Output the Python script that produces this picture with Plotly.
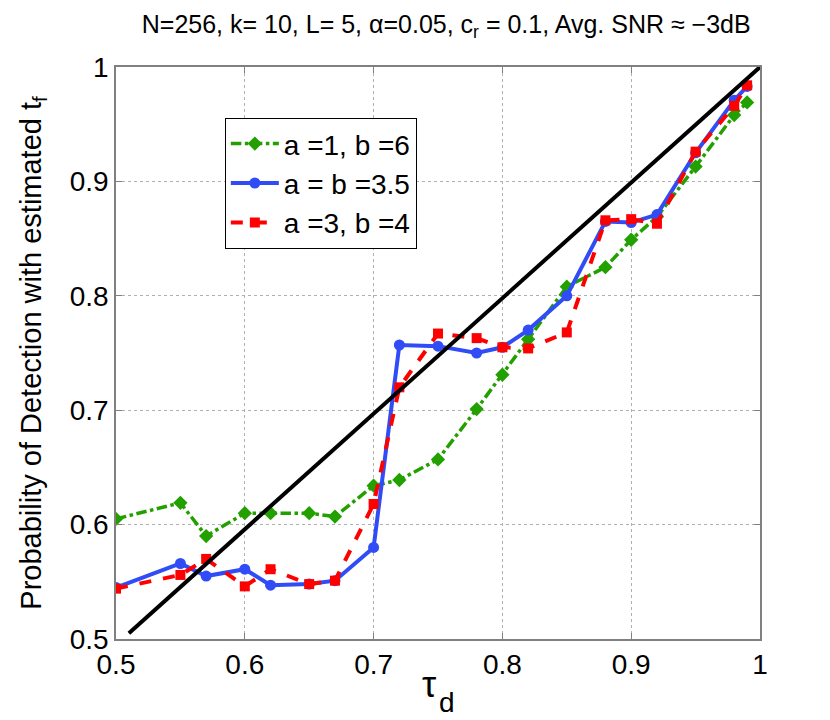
import plotly.graph_objects as go

# tau_d values shared by all three curves
tau_d = [0.5, 0.55, 0.57, 0.6, 0.62, 0.65, 0.67, 0.7, 0.72, 0.75,
         0.78, 0.8, 0.82, 0.85, 0.88, 0.9, 0.92, 0.95, 0.98, 0.99]

pd_a1_b6 = [0.605, 0.619, 0.590, 0.610, 0.610, 0.610, 0.607, 0.634, 0.639, 0.657,
            0.701, 0.731, 0.762, 0.808, 0.825, 0.849, 0.869, 0.913, 0.958, 0.969]
pd_a35_b35 = [0.545, 0.566, 0.555, 0.561, 0.547, 0.548, 0.551, 0.580, 0.757, 0.756,
              0.750, 0.755, 0.770, 0.800, 0.865, 0.864, 0.871, 0.925, 0.971, 0.983]
pd_a3_b4 = [0.544, 0.556, 0.570, 0.546, 0.561, 0.548, 0.551, 0.618, 0.720, 0.767,
            0.763, 0.755, 0.754, 0.768, 0.866, 0.867, 0.863, 0.926, 0.966, 0.984]

ref_x = [0.51, 1.0]
ref_y = [0.505, 1.0]

tick_vals = [0.5, 0.6, 0.7, 0.8, 0.9, 1.0]
tick_text = ["0.5", "0.6", "0.7", "0.8", "0.9", "1"]

FONT = "Liberation Sans, Arial, Helvetica, sans-serif"

fig = go.Figure()

fig.add_trace(go.Scatter(
    x=tau_d, y=pd_a1_b6, mode="lines+markers", name="a =1, b =6",
    line=dict(color="#22a000", width=3.5, dash="dashdot"),
    marker=dict(symbol="diamond", size=11, color="#22a000")))
fig.add_trace(go.Scatter(
    x=tau_d, y=pd_a35_b35, mode="lines+markers", name="a = b =3.5",
    line=dict(color="#2f4cf7", width=4),
    marker=dict(symbol="circle", size=11, color="#2f4cf7")))
fig.add_trace(go.Scatter(
    x=tau_d, y=pd_a3_b4, mode="lines+markers", name="a =3, b =4",
    line=dict(color="#ff0000", width=4, dash="dash"),
    marker=dict(symbol="square", size=10, color="#ff0000")))
fig.add_trace(go.Scatter(
    x=ref_x, y=ref_y, mode="lines", showlegend=False,
    line=dict(color="black", width=4)))

axis_common = dict(
    tickvals=tick_vals, ticktext=tick_text, range=[0.5, 1.0],
    showgrid=True, gridcolor="#b0b0b0", griddash="dot", gridwidth=1,
    showline=True, linecolor="#808080", linewidth=1.5, mirror="allticks",
    ticks="inside", ticklen=6, tickcolor="#808080",
    tickfont=dict(size=28, color="black", family=FONT),
    zeroline=False,
)

fig.update_layout(
    width=830, height=720,
    margin=dict(l=108, r=78, t=59, b=89),
    paper_bgcolor="white", plot_bgcolor="white",
    font=dict(family=FONT, color="black"),
    title=dict(text="N=256, k= 10, L= 5, α=0.05, c<sub>r</sub> = 0.1, Avg. SNR ≈ −3dB",
               x=0.528, xanchor="center", y=0.978, yanchor="middle", yref="container",
               font=dict(size=25, color="black")),
    xaxis=dict(axis_common),
    yaxis=dict(axis_common, title=dict(text="Probability of Detection with estimated t<sub>f</sub>",
                                       font=dict(size=29), standoff=20)),
    legend=dict(x=0.169, y=0.911, xanchor="left", yanchor="top",
                bgcolor="white", bordercolor="black", borderwidth=1,
                font=dict(size=28, color="black"), tracegroupgap=0, itemwidth=48),
)

# x-axis label tau_d, drawn as two pieces to match the large subscript
fig.add_annotation(text="τ", xref="paper", yref="paper", x=(421 - 108) / 644, y=(631 - 676) / 572,
                   showarrow=False, xanchor="center", yanchor="middle", font=dict(size=36),
                   borderpad=0)
fig.add_annotation(text="d", xref="paper", yref="paper", x=(439 - 108) / 644, y=(631 - 694) / 572,
                   showarrow=False, xanchor="center", yanchor="middle", font=dict(size=28),
                   borderpad=0)

fig.write_html("out.html")
